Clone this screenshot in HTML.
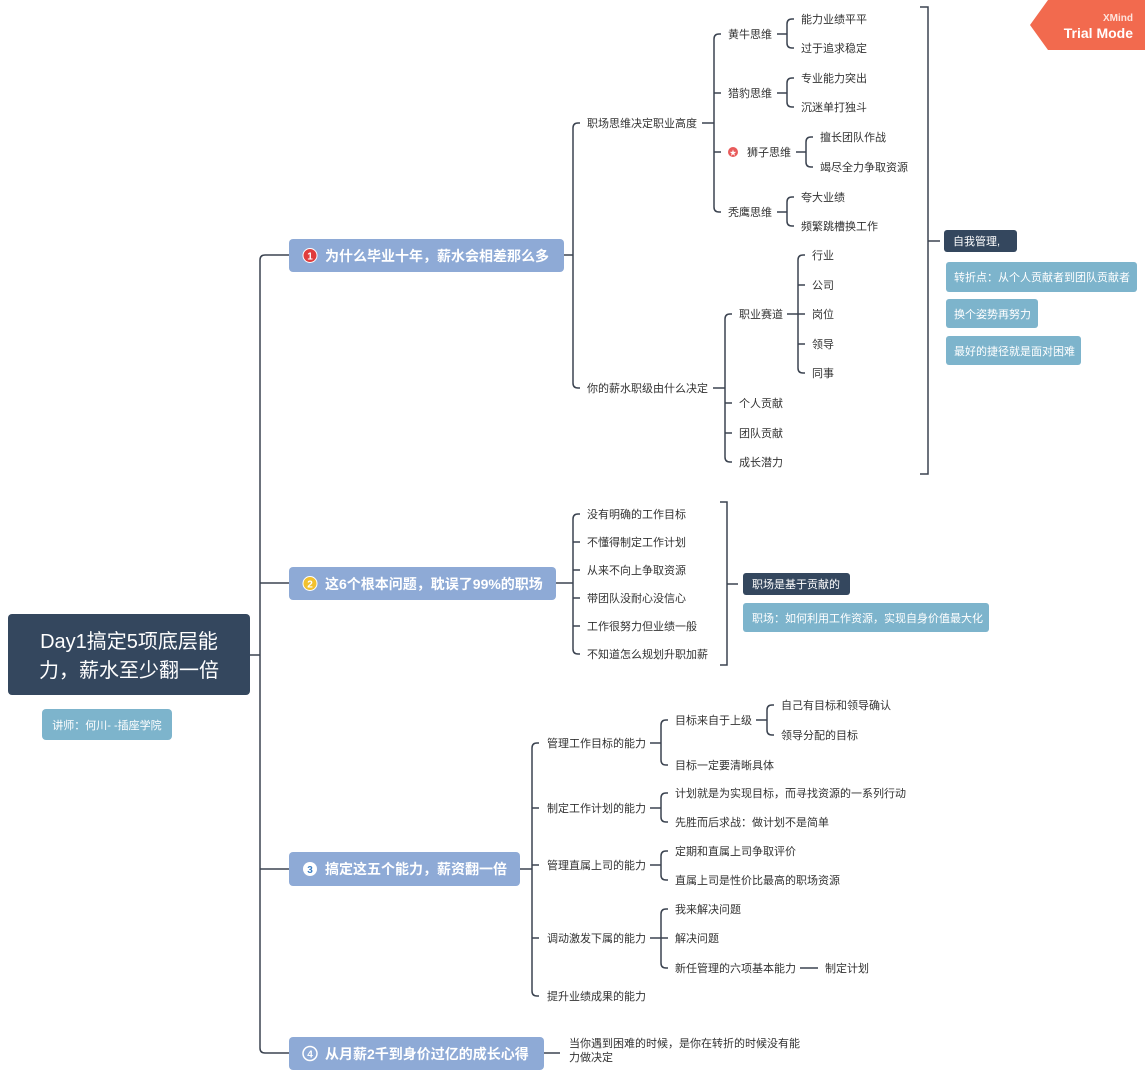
<!DOCTYPE html>
<html><head><meta charset="utf-8"><style>
html,body{margin:0;padding:0;background:#fff;}
svg{display:block}
text{font-family:"Liberation Sans","Noto Sans CJK SC",sans-serif;}
.t{font-size:11px;fill:#333;}
.w{fill:#fff;}
</style></head><body>
<svg id="s" width="1145" height="1080" viewBox="0 0 1145 1080" xmlns="http://www.w3.org/2000/svg">
<g id="lines" fill="none" stroke="#3b4350" stroke-width="1.5"></g>
<!-- XMind badge -->
<polygon points="1048,0 1145,0 1145,50 1048,50 1030,25" fill="#f26a4e"/>
<text x="1133" y="21" font-size="10" fill="#fde3dc" text-anchor="end" font-weight="bold">XMind</text>
<text x="1133" y="38" font-size="14" fill="#fff" text-anchor="end" font-weight="bold">Trial Mode</text>
<!-- root -->
<rect x="8" y="614" width="242" height="81" rx="4" fill="#34475e"/>
<text x="129" y="648" font-size="20" class="w" text-anchor="middle">Day1搞定5项底层能</text>
<text x="129" y="677" font-size="20" class="w" text-anchor="middle">力，薪水至少翻一倍</text>
<rect x="42" y="709" width="130" height="31" rx="4" fill="#7db4cc"/>
<text x="107" y="729" font-size="11" class="w" text-anchor="middle">讲师：何川- -插座学院</text>
<!-- topics -->
<rect x="289" y="239" width="275" height="33" rx="4" fill="#8eaad6"/>
<circle cx="310" cy="255.5" r="7" fill="#e03c3c" stroke="#fff" stroke-width="1"/><text x="310" y="259.5" font-size="10" class="w" text-anchor="middle" font-weight="bold">1</text>
<text x="325" y="261" font-size="14" class="w" font-weight="bold">为什么毕业十年，薪水会相差那么多</text>
<rect x="289" y="567" width="267" height="33" rx="4" fill="#8eaad6"/>
<circle cx="310" cy="583.5" r="7" fill="#f2c12e" stroke="#fff" stroke-width="1"/><text x="310" y="587.5" font-size="10" class="w" text-anchor="middle" font-weight="bold">2</text>
<text x="325" y="589" font-size="14" class="w" font-weight="bold">这6个根本问题，耽误了99%的职场</text>
<rect x="289" y="852" width="231" height="34" rx="4" fill="#8eaad6"/>
<circle cx="310" cy="869" r="7" fill="#fff"/><text x="310" y="873" font-size="10" fill="#3d7fc4" text-anchor="middle" font-weight="bold">3</text>
<text x="325" y="874" font-size="14" class="w" font-weight="bold">搞定这五个能力，薪资翻一倍</text>
<rect x="289" y="1037" width="255" height="33" rx="4" fill="#8eaad6"/>
<circle cx="310" cy="1053.5" r="7" fill="none" stroke="#fff" stroke-width="1.5"/><text x="310" y="1057.5" font-size="10" class="w" text-anchor="middle" font-weight="bold">4</text>
<text x="325" y="1059" font-size="14" class="w" font-weight="bold">从月薪2千到身价过亿的成长心得</text>
<!-- summary boxes -->
<rect x="944" y="230" width="73" height="22" rx="3" fill="#34475e"/><text x="953" y="245" font-size="11" class="w">自我管理,</text>
<rect x="946" y="262" width="191" height="30" rx="3" fill="#7db4cc"/><text x="954" y="281" font-size="11" class="w">转折点：从个人贡献者到团队贡献者</text>
<rect x="946" y="299" width="92" height="29" rx="3" fill="#7db4cc"/><text x="954" y="318" font-size="11" class="w">换个姿势再努力</text>
<rect x="946" y="336" width="135" height="29" rx="3" fill="#7db4cc"/><text x="954" y="355" font-size="11" class="w">最好的捷径就是面对困难</text>
<rect x="743" y="573" width="107" height="22" rx="3" fill="#34475e"/><text x="752" y="588" font-size="11" class="w">职场是基于贡献的</text>
<rect x="743" y="603" width="246" height="29" rx="3" fill="#7db4cc"/><text x="752" y="622" font-size="11" class="w">职场：如何利用工作资源，实现自身价值最大化</text>
<g id="texts" class="t"></g>
<circle cx="733" cy="152" r="5" fill="#e85a5a"/><text x="733" y="155" font-size="7" class="w" text-anchor="middle">★</text>
</svg>
<script>
var L=document.getElementById('lines'),T=document.getElementById('texts'),NS='http://www.w3.org/2000/svg';
function p(d){var e=document.createElementNS(NS,'path');e.setAttribute('d',d);L.appendChild(e);}
function tx(x,y,s){var e=document.createElementNS(NS,'text');e.setAttribute('x',x);e.setAttribute('y',y+4);e.textContent=s;T.appendChild(e);}
function br(px,py,x,ys,len){len=len||7;var r=5;p('M'+px+','+py+'L'+x+','+py);
var a=Math.min.apply(0,ys),b=Math.max.apply(0,ys);
if(a==b){p('M'+x+','+a+'L'+(x+len)+','+a);return;}
p('M'+x+','+(a+r)+'L'+x+','+(b-r));
ys.forEach(function(y){if(y==a)p('M'+x+','+(a+r)+'Q'+x+','+a+' '+(x+r)+','+a+'L'+(x+len)+','+a);
else if(y==b)p('M'+x+','+(b-r)+'Q'+x+','+b+' '+(x+r)+','+b+'L'+(x+len)+','+b);
else p('M'+x+','+y+'L'+(x+len)+','+y);});}
function leaves(x,arr){arr.forEach(function(a){tx(x,a[0],a[1]);});}
// trunk
br(250,655,260,[255,583,869,1053],29);
// T1
br(564,255,573,[123,388]);leaves(587,[[123,'职场思维决定职业高度'],[388,'你的薪水职级由什么决定']]);
br(702,123,714,[34,93,152,212]);leaves(728,[[34,'黄牛思维'],[93,'猎豹思维'],[212,'秃鹰思维']]);tx(747,152,'狮子思维');
br(777,34,787,[19,48]);leaves(801,[[19,'能力业绩平平'],[48,'过于追求稳定']]);
br(777,93,787,[78,107]);leaves(801,[[78,'专业能力突出'],[107,'沉迷单打独斗']]);
br(796,152,806,[137,167]);leaves(820,[[137,'擅长团队作战'],[167,'竭尽全力争取资源']]);
br(777,212,787,[197,226]);leaves(801,[[197,'夸大业绩'],[226,'频繁跳槽换工作']]);
br(713,388,725,[314,403,433,462]);leaves(739,[[314,'职业赛道'],[403,'个人贡献'],[433,'团队贡献'],[462,'成长潜力']]);
br(787,314,798,[255,285,314,344,373]);leaves(812,[[255,'行业'],[285,'公司'],[314,'岗位'],[344,'领导'],[373,'同事']]);
// big bracket
p('M920,7L928,7L928,474L920,474');p('M928,241L940,241');
// T2
br(556,583,573,[514,542,570,598,626,654]);leaves(587,[[514,'没有明确的工作目标'],[542,'不懂得制定工作计划'],[570,'从来不向上争取资源'],[598,'带团队没耐心没信心'],[626,'工作很努力但业绩一般'],[654,'不知道怎么规划升职加薪']]);
p('M720,502L727,502L727,665L720,665');p('M727,584L738,584');
// T3
br(520,869,532,[743,808,865,938,996]);leaves(547,[[743,'管理工作目标的能力'],[808,'制定工作计划的能力'],[865,'管理直属上司的能力'],[938,'调动激发下属的能力'],[996,'提升业绩成果的能力']]);
br(650,743,661,[720,765]);leaves(675,[[720,'目标来自于上级'],[765,'目标一定要清晰具体']]);
br(756,720,767,[705,735]);leaves(781,[[705,'自己有目标和领导确认'],[735,'领导分配的目标']]);
br(650,808,661,[793,822]);leaves(675,[[793,'计划就是为实现目标，而寻找资源的一系列行动'],[822,'先胜而后求战：做计划不是简单']]);
br(650,865,661,[851,880]);leaves(675,[[851,'定期和直属上司争取评价'],[880,'直属上司是性价比最高的职场资源']]);
br(650,938,661,[909,938,968]);leaves(675,[[909,'我来解决问题'],[938,'解决问题'],[968,'新任管理的六项基本能力']]);
p('M800,968L818,968');tx(825,968,'制定计划');
// T4
p('M544,1053L560,1053');tx(569,1043,'当你遇到困难的时候，是你在转折的时候没有能');tx(569,1057,'力做决定');
</script>
</body></html>
